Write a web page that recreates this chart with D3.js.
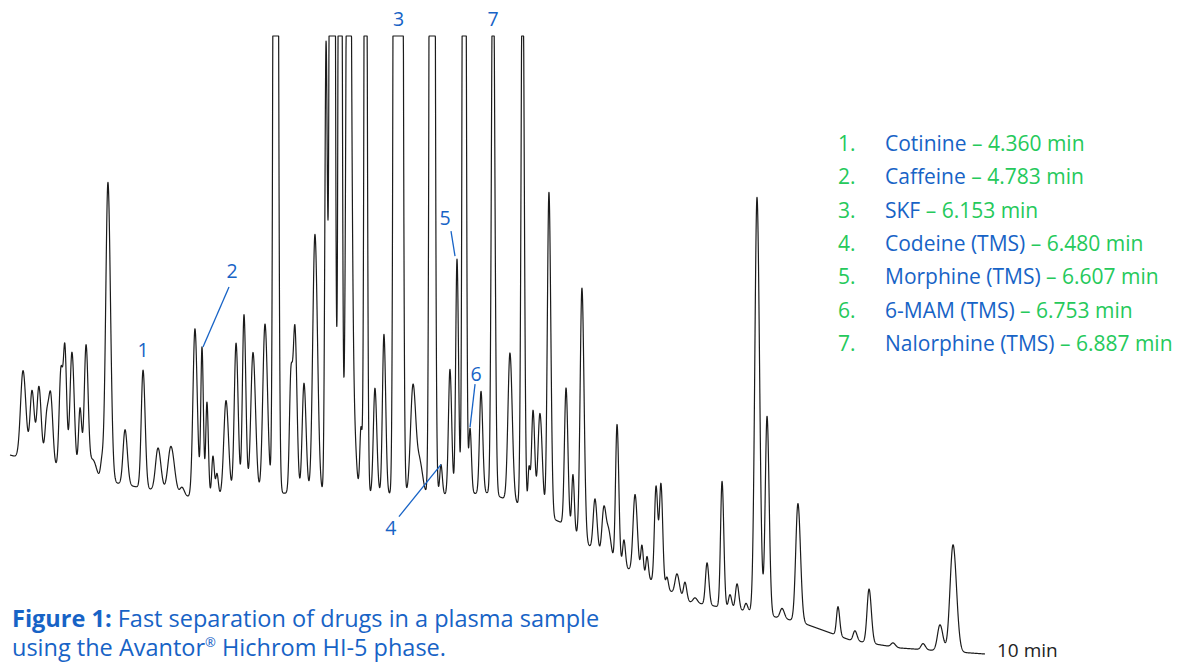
<!DOCTYPE html>
<html>
<head>
<meta charset="utf-8">
<script src="https://cdn.jsdelivr.net/npm/d3@7"></script>
<style>
  html, body { margin: 0; padding: 0; background: #fff; }
  svg { display: block; font-family: "Open Sans", Lato, sans-serif; }
</style>
</head>
<body>
<svg id="chart" width="1188" height="662"></svg>
<script>
// --- DATA ---
// retention time (min), height above baseline (counts), peak width (sigma, s)
const peakTime = [3.587, 3.647, 3.693, 3.747, 3.773, 3.840, 3.867, 3.913, 3.967, 4.007,
  4.053, 4.113, 4.153, 4.267, 4.387, 4.487, 4.573, 4.647, 4.733, 4.780,
  4.813, 4.853, 4.880, 4.940, 5.007, 5.060, 5.120, 5.200, 5.270, 5.373,
  5.400, 5.460, 5.533, 5.607, 5.647, 5.700, 5.757, 5.793, 5.840, 5.870,
  5.933, 5.993, 6.070, 6.103, 6.187, 6.233, 6.313, 6.373, 6.433, 6.480,
  6.527, 6.567, 6.640, 6.720, 6.833, 6.917, 6.960, 6.987, 7.033, 7.093,
  7.207, 7.253, 7.313, 7.400, 7.460, 7.493, 7.547, 7.593, 7.667, 7.713,
  7.747, 7.807, 7.840, 7.880, 7.947, 8.000, 8.067, 8.147, 8.247, 8.300,
  8.347, 8.407, 8.480, 8.547, 8.647, 8.753, 9.020, 9.133, 9.227, 9.387,
  9.587, 9.700, 9.787];
const peakHeight = [88, 70, 76, 52, 60, 100, 110, 120, 66, 130,
  18, 18, 299, 55, 118, 43, 47, 8, 168, 148,
  94, 40, 22, 95, 152, 180, 142, 170, 2000, 117,
  160, 110, 259, 450, 2650, 1490, 1000, 60, 66, 1000,
  106, 160, 2000, 2000, 110, 30, 2650, 30, 125, 235,
  1490, 65, 102, 600, 148, 600, 40, 100, 100, 325,
  139, 58, 252, 52, 50, 25, 139, 27, 78, 30,
  22, 97, 100, 12, 21, 17, 5, 42, 126, 14,
  26, 8, 416, 199, 10, 118, 29, 10, 54, 4,
  6, 26, 107];
const peakWidth = [1.0, 0.8, 0.8, 0.8, 0.72, 0.72, 0.6, 0.8, 0.6, 0.72,
  1.2, 0.6, 0.88, 0.8, 0.72, 1.0, 1.2, 0.8, 0.8, 0.48,
  0.48, 0.48, 0.48, 0.88, 0.72, 0.64, 0.88, 0.88, 0.64, 0.6,
  0.68, 0.72, 0.88, 0.48, 0.64, 0.52, 0.8, 0.8, 0.48, 0.48,
  0.64, 0.6, 0.6, 0.6, 1.0, 1.0, 0.64, 0.48, 0.6, 0.52,
  0.52, 0.48, 0.6, 0.6, 0.8, 0.56, 0.4, 0.6, 0.8, 0.64,
  0.64, 0.48, 0.72, 0.72, 0.8, 0.8, 0.6, 0.52, 0.8, 0.48,
  0.48, 0.64, 0.6, 0.48, 0.8, 0.6, 0.8, 0.64, 0.6, 0.6,
  0.64, 0.6, 0.88, 0.72, 0.8, 0.88, 0.6, 0.72, 0.8, 0.8,
  0.8, 1.0, 1.2];

// drifting baseline
const baseTime = [3.5, 4.1, 4.7, 5.367, 6.3, 6.7, 6.9, 7.167, 7.433, 7.767, 8.033, 8.433, 8.767, 9.1, 9.433, 10];
const baseLevel = [205, 180, 163, 167, 165, 167, 155, 138, 105, 80, 58, 48, 38, 20, 12, 6];

const compoundNames = ["Cotinine", "Caffeine", "SKF", "Codeine (TMS)", "Morphine (TMS)", "6-MAM (TMS)", "Nalorphine (TMS)"];
const compoundTimes = ["4.360", "4.783", "6.153", "6.480", "6.607", "6.753", "6.887"];
// which peak (index into peakTime) each number points at
const labelPeak = [14, 19, 42, 47, 49, 51, 53];

const detectorMax = 624;   // signal saturates here (flat tops)
const timeStart = 3.5, timeEnd = 10;

// --- CONFIG ---
const blue = "#1763c6";
const green = "#25c95b";
const svg = d3.select("#chart");

const x = d3.scaleLinear().domain([timeStart, timeEnd]).range([10, 985]);
const y = d3.scaleLinear().domain([0, detectorMax]).range([660, 36]);
const baseline = d3.scaleLinear().domain(baseTime).range(baseLevel).clamp(true);
const tailing = 1.15;

function signal(t) {
  let s = baseline(t);
  for (let i = 0; i < peakTime.length; i++) {
    const w = t > peakTime[i] ? peakWidth[i] * tailing : peakWidth[i];
    const d = (t - peakTime[i]) * 60 / w;
    if (Math.abs(d) < 8) s += peakHeight[i] * Math.exp(-0.5 * d * d);
  }
  return Math.min(s, detectorMax);
}

const samples = d3.range(timeStart, timeEnd + 0.0005, 0.001).map(t => [t, signal(t)]);

const line = d3.line().x(d => x(d[0])).y(d => y(d[1]));
svg.append("path")
  .datum(samples)
  .attr("d", line)
  .attr("fill", "none")
  .attr("stroke", "#1b1b1b")
  .attr("stroke-width", 1.2)
  .attr("stroke-linejoin", "round");

svg.append("text")
  .attr("x", x(timeEnd) + 12).attr("y", 657)
  .attr("font-size", 19).attr("fill", "#222")
  .text("10 min");

// --- PEAK LABELS ---
// text offset from the apex, and optional leader line (offsets in px)
const labelLayout = [
  { dx: 0, dy: -13, line: null },
  { dx: 30, dy: -69, line: [27, -60, 1, 0] },
  { dx: 3, dy: null, line: null },
  { dx: -50, dy: 70, line: [-42, 52, 0, 0] },
  { dx: -12, dy: -34, line: [-6, -28, -2, -3] },
  { dx: 6, dy: -47, line: [5, -44, 0, -1] },
  { dx: 0, dy: null, line: null }
];

labelPeak.forEach((p, i) => {
  const px = x(peakTime[p]);
  const py = y(signal(peakTime[p]));
  const L = labelLayout[i];
  const ty = L.dy === null ? 26 : py + L.dy;
  svg.append("text")
    .attr("x", px + L.dx).attr("y", ty)
    .attr("text-anchor", "middle")
    .attr("font-size", 19.5).attr("fill", blue)
    .text(i + 1);
  if (L.line) {
    svg.append("line")
      .attr("x1", px + L.line[0]).attr("y1", py + L.line[1])
      .attr("x2", px + L.line[2]).attr("y2", py + L.line[3])
      .attr("stroke", blue).attr("stroke-width", 1.3);
  }
});

// --- LEGEND ---
const legend = svg.append("g").attr("font-size", 21);
compoundNames.forEach((name, i) => {
  const ly = 151 + i * 33.3;
  legend.append("text").attr("x", 838).attr("y", ly).attr("fill", green).text((i + 1) + ".");
  const t = legend.append("text").attr("x", 885).attr("y", ly);
  t.append("tspan").attr("fill", blue).text(name);
  t.append("tspan").attr("fill", green).text(" \u2013 " + compoundTimes[i] + " min");
});

// --- CAPTION ---
const cap = svg.append("g").attr("font-size", 23.5).attr("fill", blue);
const c1 = cap.append("text").attr("x", 12).attr("y", 627);
c1.append("tspan").attr("font-weight", 700).text("Figure 1:");
c1.append("tspan").text(" Fast separation of drugs in a plasma sample");
const c2 = cap.append("text").attr("x", 12).attr("y", 656);
c2.append("tspan").text("using the Avantor");
c2.append("tspan").attr("font-size", 13).attr("dy", -9).text("\u00AE");
c2.append("tspan").attr("dy", 9).text(" Hichrom HI-5 phase.");
</script>
</body>
</html>
